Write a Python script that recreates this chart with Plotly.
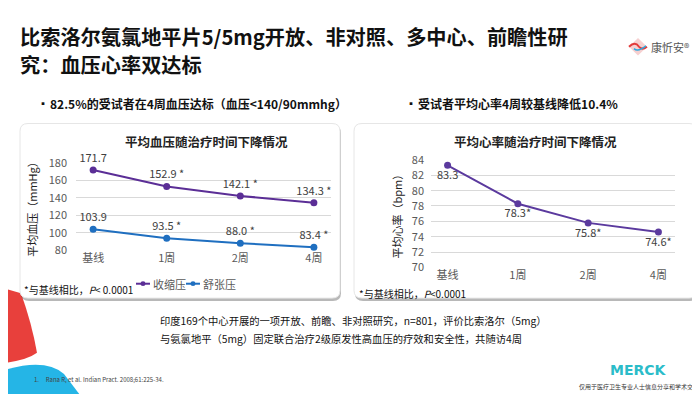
import plotly.graph_objects as go

W, H = 700, 394

categories = ["基线", "1周", "2周", "4周"]
sbp_values = [171.7, 152.9, 142.1, 134.3]
sbp_labels = ["171.7", "152.9 *", "142.1 *", "134.3 *"]
dbp_values = [103.9, 93.5, 88.0, 83.4]
dbp_labels = ["103.9", "93.5 *", "88.0 *", "83.4 *"]
hr_values = [83.3, 78.3, 75.8, 74.6]
hr_labels = ["83.3", "78.3*", "75.8*", "74.6*"]
bp_ticks = [80, 100, 120, 140, 160, 180]
hr_ticks = [70, 72, 74, 76, 78, 80, 82, 84]
series_names = ["收缩压", "舒张压"]


def px(x):
    return x / W


def py(y):
    return 1 - y / H


def rrect(x0, y0, x1, y1, r):
    rx, ry = r / W, r / H
    X0, X1 = px(x0), px(x1)
    Y0, Y1 = py(y0), py(y1)
    return (f"M {X0+rx},{Y0} L {X1-rx},{Y0} Q {X1},{Y0} {X1},{Y0-ry} "
            f"L {X1},{Y1+ry} Q {X1},{Y1} {X1-rx},{Y1} L {X0+rx},{Y1} "
            f"Q {X0},{Y1} {X0},{Y1+ry} L {X0},{Y0-ry} Q {X0},{Y0} {X0+rx},{Y0} Z")


FONT = "Noto Sans CJK SC, Noto Sans, sans-serif"
SBP_C = "#5b2e96"
DBP_C = "#1f6fc0"
HR_C = "#5b3a9e"
TICK_C = "#595959"

fig = go.Figure()

fig.add_trace(go.Scatter(
    x=categories, y=sbp_values, text=sbp_labels, name=series_names[0],
    mode="lines+markers+text", textposition="top center",
    line=dict(color=SBP_C, width=2), marker=dict(size=7, color=SBP_C),
    textfont=dict(size=11, color="#404040", family=FONT),
    xaxis="x", yaxis="y", cliponaxis=False, showlegend=False))
fig.add_trace(go.Scatter(
    x=categories, y=dbp_values, text=dbp_labels, name=series_names[1],
    mode="lines+markers+text", textposition="top center",
    line=dict(color=DBP_C, width=2), marker=dict(size=7, color=DBP_C),
    textfont=dict(size=11, color="#404040", family=FONT),
    xaxis="x", yaxis="y", cliponaxis=False, showlegend=False))
fig.add_trace(go.Scatter(
    x=categories, y=hr_values, text=hr_labels, name="心率", showlegend=False,
    mode="lines+markers+text", textposition="bottom center",
    line=dict(color=HR_C, width=2), marker=dict(size=7, color=HR_C),
    textfont=dict(size=11, color="#404040", family=FONT),
    xaxis="x2", yaxis="y2", cliponaxis=False))

axis_common = dict(showline=False, zeroline=False, ticks="",
                   tickfont=dict(size=11, color=TICK_C, family=FONT))

fig.update_layout(
    width=W, height=H, margin=dict(l=0, r=0, t=0, b=0),
    paper_bgcolor="white", plot_bgcolor="white",
    font=dict(family=FONT),
    xaxis=dict(domain=[px(68), px(323)], anchor="y", showgrid=False,
               **axis_common),
    yaxis=dict(domain=[py(243), py(152)], anchor="x", range=[80, 180],
               tickvals=bp_ticks, showgrid=True, gridcolor="#d9d9d9",
               gridwidth=1, ticklabelstandoff=8,
               title=dict(text="平均血压（mmHg）", standoff=8,
                          font=dict(size=11, color="#222", family=FONT)),
               **axis_common),
    xaxis2=dict(domain=[px(423), px(667)], anchor="y2", showgrid=False,
                **axis_common),
    yaxis2=dict(domain=[py(261), py(149)], anchor="x2", range=[70, 84],
                tickvals=hr_ticks, showgrid=True, gridcolor="#d9d9d9",
                gridwidth=1, ticklabelstandoff=6,
                title=dict(text="平均心率（bpm）", standoff=6,
                           font=dict(size=11, color="#222", family=FONT)),
                **axis_common),
    showlegend=False,
)

shapes = []
# decorative left shapes
shapes.append(dict(type="path", xref="paper", yref="paper",
                   path=f"M 0,{py(284)} L {px(13)},{py(288)} Q {px(24)},{py(320)} {px(29)},{py(350)} "
                        f"Q {px(20)},{py(357)} 0,{py(360)} Z",
                   fillcolor="#e8403c", line=dict(width=0), layer="below"))
shapes.append(dict(type="path", xref="paper", yref="paper",
                   path=f"M 0,{py(367)} Q {px(38)},{py(356)} {px(56)},{py(372)} "
                        f"L {px(72)},{py(394)} L 0,{py(394)} Z",
                   fillcolor="#25b5e6", line=dict(width=0), layer="below"))
# chart boxes with shadows
for (x0, y0, x1, y1) in [(12, 111, 332, 293), (346, 111, 689, 293)]:
    shapes.append(dict(type="path", xref="paper", yref="paper",
                       path=rrect(x0 + 1, y0 + 2, x1 + 1, y1 + 3, 8),
                       fillcolor="rgba(0,0,0,0.28)", line=dict(width=0),
                       layer="below"))
    shapes.append(dict(type="path", xref="paper", yref="paper",
                       path=rrect(x0, y0, x1, y1, 8),
                       fillcolor="white", line=dict(color="#e6e6e6", width=1),
                       layer="below"))
# manual legend symbols
for (lx, col) in [(128, SBP_C), (178, DBP_C)]:
    shapes.append(dict(type="line", xref="paper", yref="paper",
                       x0=px(lx), x1=px(lx + 14), y0=py(278), y1=py(278),
                       line=dict(color=col, width=2)))
    shapes.append(dict(type="circle", xref="paper", yref="paper",
                       x0=px(lx + 4.5), x1=px(lx + 9.5), y0=py(280.5), y1=py(275.5),
                       fillcolor=col, line=dict(width=0)))
# logo diamond
cx, cy, s = 630, 31, 9
shapes.append(dict(type="path", xref="paper", yref="paper",
                   path=f"M {px(cx)},{py(cy-s)} L {px(cx+s)},{py(cy)} L {px(cx)},{py(cy+s)} "
                        f"L {px(cx-s)},{py(cy)} Z",
                   fillcolor="#f6d0d0", line=dict(width=0)))
shapes.append(dict(type="path", xref="paper", yref="paper",
                   path=f"M {px(cx-s)},{py(cy)} Q {px(cx-3)},{py(cy-6)} {px(cx+1)},{py(cy)} "
                        f"Q {px(cx+4)},{py(cy+4)} {px(cx+s)},{py(cy)}",
                   line=dict(color="#e23b3b", width=2)))
shapes.append(dict(type="path", xref="paper", yref="paper",
                   path=f"M {px(cx-4)},{py(cy+2)} Q {px(cx)},{py(cy+6)} {px(cx+s-1)},{py(cy-1)}",
                   line=dict(color="#29a9e0", width=1.5)))
fig.update_layout(shapes=shapes)


def text(x, y, t, size, color="#111", bold=False, xanchor="left", family=FONT):
    if bold:
        t = f"<b>{t}</b>"
    fig.add_annotation(x=px(x), y=py(y), xref="paper", yref="paper", text=t,
                       showarrow=False, xanchor=xanchor, yanchor="middle",
                       font=dict(size=size, color=color, family=family),
                       align="left")


text(10, 20, "比索洛尔氨氯地平片5/5mg开放、非对照、多中心、前瞻性研", 20.2, "#111", True)
text(10, 49, "究：血压心率双达标", 20.2, "#111", True)
text(641, 31, "康忻安®", 11, "#555")
text(28, 90, "▪", 10, "#111")
text(40, 90, "82.5%的受试者在4周血压达标（血压<140/90mmhg）", 12, "#111", True)
text(396, 90, "▪", 10, "#111")
text(408, 90, "受试者平均心率4周较基线降低10.4%", 12, "#111", True)
text(198, 130, "平均血压随治疗时间下降情况", 12.5, "#222", True, "center")
text(527, 130, "平均心率随治疗时间下降情况", 12.5, "#222", True, "center")
text(143, 278, series_names[0], 11, TICK_C)
text(193, 278, series_names[1], 11, TICK_C)
text(14, 284, "*与基线相比，<i>P</i>< 0.0001", 10, "#111")
text(349, 288, "*与基线相比，<i>P</i><0.0001", 10, "#111")
text(150, 316, "印度169个中心开展的一项开放、前瞻、非对照研究，n=801，评价比索洛尔（5mg）", 10.3, "#111")
text(150, 335, "与氨氯地平（5mg）固定联合治疗2级原发性高血压的疗效和安全性，共随访4周", 10.3, "#111")
text(24, 378, "1.     Rana R, et al. Indian Pract. 2008;61:225-34.", 6, "#444")
text(630, 368, "MERCK", 14, "#2bbcc9", True, "center", "DejaVu Sans, sans-serif")
text(631, 385, "仅用于医疗卫生专业人士信息分享和学术交流", 6, "#333", False, "center")

fig.write_html("out.html")
